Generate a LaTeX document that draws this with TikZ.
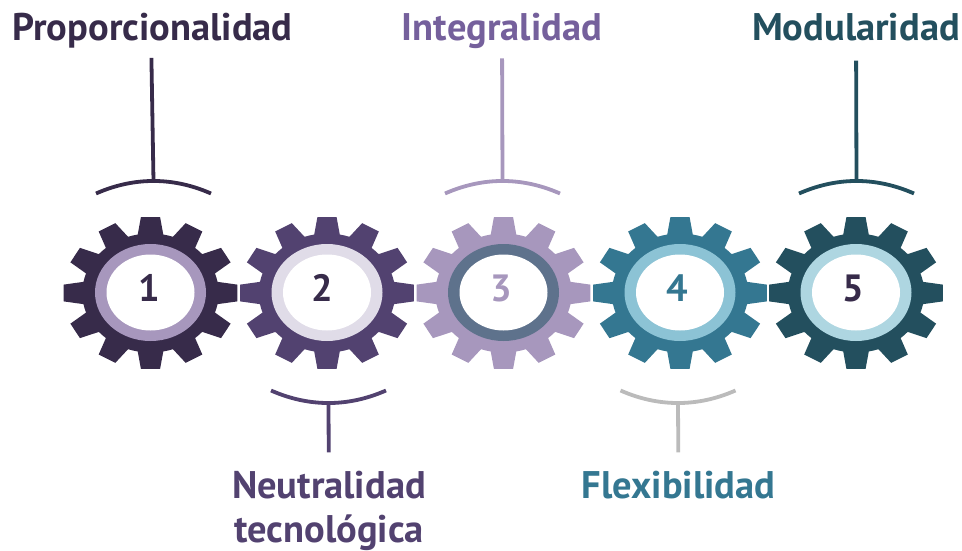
\documentclass[tikz,border=0pt]{standalone}
\usepackage{fontspec}
\setmainfont{PT Sans}
\usepackage{tikz}
\definecolor{plum}{HTML}{372B4A}
\definecolor{grape}{HTML}{524270}
\definecolor{lilac}{HTML}{A797BD}
\definecolor{violet}{HTML}{75609C}
\definecolor{pale}{HTML}{E0DCE8}
\definecolor{slate}{HTML}{5E728C}
\definecolor{teal}{HTML}{347791}
\definecolor{sky}{HTML}{8CC3D5}
\definecolor{petrol}{HTML}{234F5E}
\definecolor{ice}{HTML}{AED6E1}
\definecolor{ash}{HTML}{BBBBBB}
\newcommand{\gearteeth}{
  (-15:.78) \foreach \a in {0,30,...,330} {
    -- (\a-10.8:.78) -- (\a-6.3:1) -- (\a+6.3:1) -- (\a+10.8:.78) -- (\a+15:.78)
  } -- cycle
}
\tikzset{
  title/.style={font=\fontsize{38.5pt}{44.5pt}\selectfont\bfseries, inner sep=0pt, align=center, anchor=base},
  num/.style={font=\fontsize{38pt}{38pt}\selectfont\bfseries, inner sep=0pt},
  stem/.style={line width=3.8pt},
}

\begin{document}
\begin{tikzpicture}[x=1pt,y=-1pt]
\useasboundingbox (0,0) rectangle (962,551);

\foreach \n/\x/\dx/\gearcol/\ringcol/\numcol in {1/150.5/-1.5/plum/lilac/plum,2/327/-4.5/grape/pale/plum,3/503.5/-2/lilac/slate/lilac,4/680/-2.5/teal/sky/teal,5/856/-2.5/petrol/ice/plum} {
  \begin{scope}[shift={(\x,293)},x=87.5pt,y=-76.3pt]
    \fill[\gearcol] \gearteeth;
  \end{scope}
  \fill[\ringcol] (\x,292.5) ellipse [x radius=55.5, y radius=48.5];
  \fill[white] (\x,292.5) ellipse [x radius=44, y radius=38];
  \node[num,text=\numcol] (g\n) at (\x+\dx,288) {\n};
}

\node[title,text=plum] (p) at (152.5,41) {Proporcionalidad};
\node[title,text=violet] (i) at (502,41) {Integralidad};
\node[title,text=petrol] (m) at (856,41) {Modularidad};
\node[title,text=grape] (n) at (329,542.5) {Neutralidad\\tecnológica};
\node[title,text=teal] (f) at (678.5,498) {Flexibilidad};

% arcs over and under the gears
\foreach \name/\x/\y/\s/\col in {ap/153.5/181/1/plum,ai/502.5/181/1/lilac,am/856.5/181/1/petrol,an/328.5/403/-1/grape,af/678/403/-1/ash} {
  \coordinate (\name) at (\x,\y);
  \draw[stem,\col] (\name) ++(-57.5,12.5*\s) .. controls +(38,-16.7*\s) and +(-38,-16.7*\s) .. ++(115,0);
}

\draw[stem,plum,shorten <=9pt] (p.266) -- (ap);
\draw[stem,lilac,shorten <=9pt] (i) -- (ai);
\draw[stem,petrol,shorten <=19pt] (m) -- (am);
\draw[stem,grape,shorten >=18pt] (an) -- (n);
\draw[stem,ash,shorten >=18pt] (af) -- (f);
\end{tikzpicture}
\end{document}
